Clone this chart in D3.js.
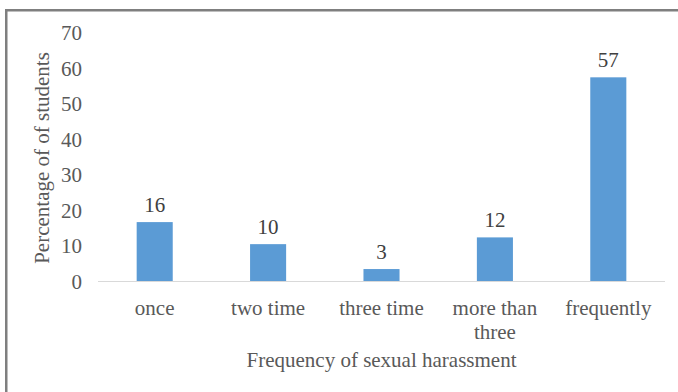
<!DOCTYPE html>
<html><head><meta charset="utf-8">
<script src="https://cdn.jsdelivr.net/npm/d3@7"></script>
<style>body{margin:0;background:#fff}svg{display:block}</style>
</head><body>
<svg id="c" width="678" height="392"></svg>
<script>
const categories = [["once"], ["two time"], ["three time"], ["more than", "three"], ["frequently"]];
const values = [16.7, 10.5, 3.5, 12.4, 57.4];
const labels = ["16", "10", "3", "12", "57"];
const yTicks = [0, 10, 20, 30, 40, 50, 60, 70];
const yTitle = "Percentage of of students";
const xTitle = "Frequency of sexual harassment";

const svg = d3.select("#c");
const font = "'Liberation Serif','Times New Roman',serif";
const fs = 21;

svg.append("rect").attr("x", 6.25).attr("y", 10.25).attr("width", 700).attr("height", 400)
  .attr("fill", "#fff").attr("stroke", "#7f7f7f").attr("stroke-width", 2.5);

const x = d3.scaleBand().domain(d3.range(categories.length)).range([98, 665]).paddingInner(0.682).paddingOuter(0.341);
const y = d3.scaleLinear().domain([0, 70]).range([281.5, 32.5]);

// y tick labels
svg.append("g").selectAll("text").data(yTicks).join("text")
  .attr("x", 82).attr("y", d => y(d)).attr("dy", "0.36em")
  .attr("text-anchor", "end").attr("font-family", font).attr("font-size", fs).attr("fill", "#595959")
  .text(d => d);

// bars
svg.append("g").selectAll("rect").data(values).join("rect")
  .attr("x", (d, i) => x(i)).attr("width", x.bandwidth())
  .attr("y", d => y(d)).attr("height", d => y(0) - y(d))
  .attr("fill", "#5B9BD5");

// baseline
svg.append("line").attr("x1", 98).attr("x2", 665).attr("y1", y(0)).attr("y2", y(0))
  .attr("stroke", "#d9d9d9").attr("stroke-width", 1.2);

// data labels
svg.append("g").selectAll("text").data(values).join("text")
  .attr("x", (d, i) => x(i) + x.bandwidth() / 2).attr("y", d => y(d) - 10)
  .attr("text-anchor", "middle").attr("font-family", font).attr("font-size", fs).attr("fill", "#404040")
  .text((d, i) => labels[i]);

// category labels
const cg = svg.append("g").selectAll("text").data(categories).join("text")
  .attr("x", (d, i) => x(i) + x.bandwidth() / 2).attr("y", 315)
  .attr("text-anchor", "middle").attr("font-family", font).attr("font-size", fs).attr("fill", "#595959");
cg.selectAll("tspan").data((d, i) => d.map(t => ({t, i}))).join("tspan")
  .attr("x", d => x(d.i) + x.bandwidth() / 2).attr("dy", (d, j) => j === 0 ? 0 : 23.5)
  .text(d => d.t);

// axis titles
svg.append("text").attr("x", 381.5).attr("y", 367)
  .attr("text-anchor", "middle").attr("font-family", font).attr("font-size", fs).attr("fill", "#595959")
  .text(xTitle);
svg.append("text").attr("transform", "translate(49,158) rotate(-90)")
  .attr("text-anchor", "middle").attr("font-family", font).attr("font-size", fs).attr("fill", "#595959")
  .text(yTitle);
</script>
</body></html>
